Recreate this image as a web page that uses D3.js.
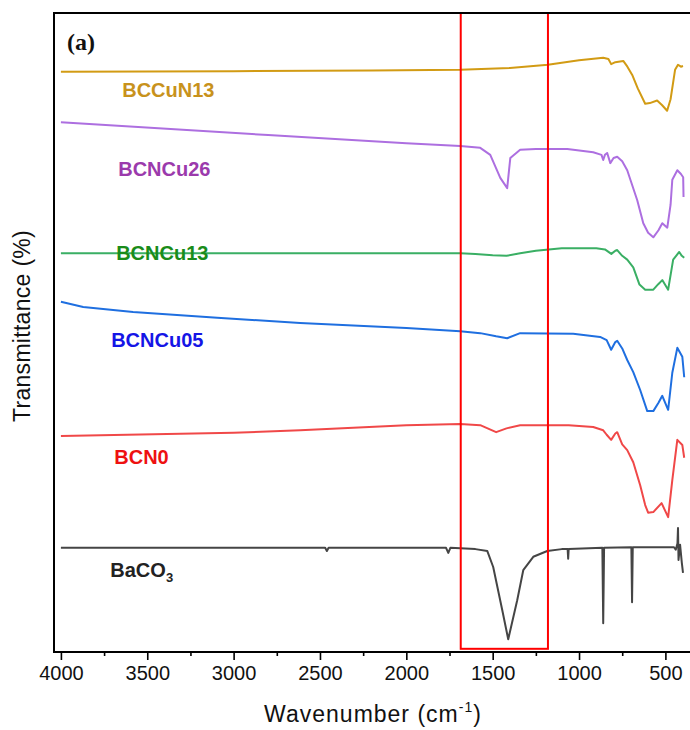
<!DOCTYPE html>
<html>
<head>
<meta charset="utf-8">
<script src="https://cdn.jsdelivr.net/npm/d3@7"></script>
<style>
  body { margin: 0; background: #fff; }
  svg { display: block; font-family: "Liberation Sans", Arial, sans-serif; }
</style>
</head>
<body>
<main></main>
<script>
const w = 690;
const h = 730;

// spectra: [wavenumber (cm-1), transmittance (offset, a.u.)]
const baco3 = [[4000,16.3],[3000,16.3],[2470,16.3],[2460,15.8],[2450,16.3],[1770,16.3],[1757,15.5],[1745,16.3],
  [1600,16.1],[1531,15.8],[1497,13.3],[1445,6.6],[1410,2.0],[1358,8.1],[1323,12.8],[1265,14.9],[1184,15.8],
  [1100,16.1],[1066,16.1],[1063,14.6],[1060,16.1],[865,16.3],[860,4.5],[855,16.3],[697,16.4],[693,7.8],[689,16.4],
  [450,16.4],[440,16.0],[430,17.0],[427,19.4],[424,14.4],[415,16.8],[405,14.0],[398,12.4]];
const bcn0 = [[4000,33.8],[3000,34.3],[2615,34.7],[2000,35.5],[1688,35.7],[1572,35.5],[1480,34.4],[1420,35.0],
  [1341,35.5],[1060,35.5],[918,35.2],[860,34.7],[840,34.0],[814,33.2],[790,34.2],[779,34.4],[750,32.5],[721,31.6],
  [686,29.7],[646,26.1],[617,23.0],[600,21.8],[570,21.9],[522,23.3],[484,21.1],[460,26.9],[431,33.2],[402,32.4],[391,30.4]];
const bcncu05 = [[4000,54.8],[3871,54.0],[3582,53.2],[3095,52.3],[2615,51.5],[2000,50.7],[1688,50.2],[1572,49.9],
  [1480,49.4],[1416,49.1],[1341,49.9],[1034,49.8],[878,49.3],[840,48.8],[814,47.3],[790,48.5],[779,48.7],[750,47.5],
  [721,45.7],[686,43.8],[646,41.0],[605,37.7],[570,37.7],[540,39.0],[518,40.1],[484,37.9],[460,43.7],[431,47.6],
  [402,46.2],[391,43.0]];
const bcncu13 = [[4000,62.4],[3000,62.4],[2000,62.4],[1688,62.4],[1600,62.3],[1500,62.1],[1420,62.0],[1341,62.4],
  [1250,62.8],[1100,63.2],[900,63.2],[850,63.0],[813,62.3],[790,62.8],[779,62.9],[750,62.0],[721,61.4],[686,60.2],
  [650,57.5],[617,56.7],[570,56.7],[540,57.6],[518,58.2],[484,56.7],[455,61.4],[420,62.6],[405,62.0],[391,61.7]];
const bcncu26 = [[4000,82.9],[2800,80.9],[2000,79.6],[1688,79.2],[1572,78.9],[1514,77.8],[1456,74.2],[1416,72.6],
  [1405,75.5],[1398,77.3],[1341,78.6],[1250,78.7],[1068,78.7],[918,78.2],[870,77.8],[860,77.0],[850,77.8],[837,78.1],
  [819,76.5],[800,77.3],[779,77.5],[750,76.8],[721,75.4],[663,70.7],[628,67.1],[600,65.6],[570,64.9],[540,66.0],
  [518,67.1],[489,66.4],[470,70.0],[460,73.9],[431,75.4],[410,74.8],[397,74.3],[395,71.2]];
const bccun13 = [[4000,90.8],[3000,90.9],[2200,91.0],[1688,91.1],[1400,91.4],[1180,91.9],[1000,92.6],[860,93.0],
  [830,92.8],[814,92.0],[790,92.3],[744,92.5],[720,91.6],[692,90.3],[660,88.2],[617,85.8],[590,85.9],[548,86.3],
  [520,85.6],[490,84.7],[470,86.5],[444,91.1],[427,91.9],[410,91.6],[398,91.7]];

const seriesNames = ["BaCO3", "BCN0", "BCNCu05", "BCNCu13", "BCNCu26", "BCCuN13"];
const seriesData = [baco3, bcn0, bcncu05, bcncu13, bcncu26, bccun13];
const lineColors = ["#454545", "#f04848", "#1f6fe0", "#3aaf64", "#ad6fe0", "#d29b14"];
const labelColors = ["#222222", "#ee1111", "#1515e6", "#1a8c1a", "#9b3aac", "#c8921c"];
// label anchor in data units [wavenumber, transmittance]
const labelAt = [[3714,11.7],[3691,29.4],[3709,47.7],[3680,61.3],[3668,74.5],[3645,86.9]];

const majorTicks = [4000, 3500, 3000, 2500, 2000, 1500, 1000, 500];
const minorTicks = [3750, 3250, 2750, 2250, 1750, 1250, 750];
const boxRange = [1685, 1180];

const xScale = d3.scaleLinear().domain([4040, 350]).range([54, 691.3]);
const yScale = d3.scaleLinear().domain([0, 100]).range([652, 13]);

const svg = d3.select("main")
    .append("svg")
    .attr("width", w)
    .attr("height", h);

const line = d3.line()
    .x(d => xScale(d[0]))
    .y(d => yScale(d[1]));

svg.selectAll("path.spec")
    .data(seriesData)
    .enter()
    .append("path")
    .attr("class", "spec")
    .attr("d", line)
    .attr("fill", "none")
    .attr("stroke", (d, i) => lineColors[i])
    .attr("stroke-width", 2)
    .attr("stroke-linejoin", "round");

// labels
const labels = svg.selectAll("text.lab")
    .data(seriesNames)
    .enter()
    .append("text")
    .attr("class", "lab")
    .attr("x", (d, i) => xScale(labelAt[i][0]))
    .attr("y", (d, i) => yScale(labelAt[i][1]))
    .attr("fill", (d, i) => labelColors[i])
    .style("font-size", "20px")
    .style("font-weight", "bold");

labels.each(function(d) {
    const t = d3.select(this);
    if (d === "BaCO3") {
        t.append("tspan").text("BaCO");
        t.append("tspan").text("3").attr("dy", 5).style("font-size", "13px");
    } else {
        t.text(d);
    }
});

// highlight box
svg.append("rect")
    .attr("x", xScale(boxRange[0]))
    .attr("y", yScale(100))
    .attr("width", xScale(boxRange[1]) - xScale(boxRange[0]))
    .attr("height", yScale(0.5) - yScale(100))
    .attr("fill", "none")
    .attr("stroke", "#ff0000")
    .attr("stroke-width", 2);

// frame
svg.append("rect")
    .attr("x", xScale.range()[0])
    .attr("y", yScale.range()[1])
    .attr("width", xScale.range()[1] - xScale.range()[0])
    .attr("height", yScale.range()[0] - yScale.range()[1])
    .attr("fill", "none")
    .attr("stroke", "#000")
    .attr("stroke-width", 2);

const xAxis = d3.axisBottom(xScale)
    .tickValues(majorTicks)
    .tickSize(8)
    .tickSizeOuter(0)
    .tickPadding(6)
    .tickFormat(d3.format("d"));

const gx = svg.append("g")
    .attr("transform", "translate(0," + yScale.range()[0] + ")")
    .call(xAxis);
gx.select(".domain").remove();
gx.selectAll("line").attr("stroke-width", 1.6);
gx.selectAll("text")
    .style("font-size", "20px")
    .style("font-family", "'Liberation Sans', Arial, sans-serif")
    .attr("fill", "#111");

const gm = svg.append("g")
    .attr("transform", "translate(0," + yScale.range()[0] + ")")
    .call(d3.axisBottom(xScale).tickValues(minorTicks).tickSize(4).tickSizeOuter(0).tickFormat(""));
gm.select(".domain").remove();
gm.selectAll("line").attr("stroke-width", 1.6);

// axis titles
const xt = svg.append("text")
    .attr("x", 373)
    .attr("y", 722)
    .attr("text-anchor", "middle")
    .style("font-size", "23px")
    .style("letter-spacing", "1px")
    .attr("fill", "#111");
xt.append("tspan").text("Wavenumber (cm");
xt.append("tspan").text("-1").attr("dy", -10).style("font-size", "14px");
xt.append("tspan").text(")").attr("dy", 10);

svg.append("text")
    .attr("transform", "translate(30,326) rotate(-90)")
    .attr("text-anchor", "middle")
    .style("font-size", "23px")
    .style("letter-spacing", "0.3px")
    .attr("fill", "#111")
    .text("Transmittance (%)");

svg.append("text")
    .attr("x", 67)
    .attr("y", 50)
    .style("font-family", "'Liberation Serif', 'Times New Roman', serif")
    .style("font-weight", "bold")
    .style("font-size", "24px")
    .attr("fill", "#111")
    .text("(a)");
</script>
</body>
</html>
